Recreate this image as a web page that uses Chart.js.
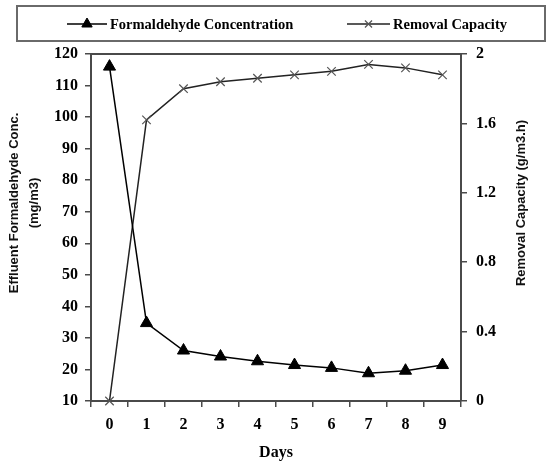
<!DOCTYPE html>
<html>
<head>
<meta charset="utf-8">
<script src="https://cdn.jsdelivr.net/npm/chart.js@4/dist/chart.umd.min.js"></script>
<style>
  html, body { margin: 0; padding: 0; background: #fff; }
  #wrap { width: 548px; height: 468px; }
</style>
</head>
<body>
<div id="wrap"><canvas id="chart" width="548" height="468"></canvas></div>
<script>
// values
const days = ['0', '1', '2', '3', '4', '5', '6', '7', '8', '9'];
const formaldehydeConc = [116, 34.7, 26, 24.1, 22.6, 21.4, 20.5, 18.8, 19.6, 21.4];
const removalCapacity = [0, 1.62, 1.80, 1.84, 1.86, 1.88, 1.90, 1.94, 1.92, 1.88];

const leftTicks = [10, 20, 30, 40, 50, 60, 70, 80, 90, 100, 110, 120];
const rightTicks = [0, 0.4, 0.8, 1.2, 1.6, 2];

const serif = "'Liberation Serif', 'Times New Roman', serif";
const sans = "'Liberation Sans', Arial, sans-serif";
const axisColor = '#4a4a4a';

// frame around the plot area + custom legend box + the two y titles
const decorPlugin = {
    id: 'decor',
    afterDraw(chart) {
        const ctx = chart.ctx;
        const a = chart.chartArea;
        ctx.save();
        ctx.strokeStyle = axisColor;
        ctx.lineWidth = 2;
        ctx.beginPath();
        ctx.moveTo(a.left, a.top);
        ctx.lineTo(a.right, a.top);
        ctx.stroke();

        // legend box
        ctx.strokeStyle = '#6a6a6a';
        ctx.lineWidth = 2;
        ctx.strokeRect(17, 6, 528, 35);

        const items = [
            { ds: chart.data.datasets[0], x0: 67, x1: 107, tx: 110 },
            { ds: chart.data.datasets[1], x0: 347, x1: 390, tx: 393 }
        ];
        const ly = 24;
        ctx.font = "bold 14.5px " + serif;
        ctx.textBaseline = 'middle';
        ctx.fillStyle = '#000';
        items.forEach(it => {
            ctx.strokeStyle = it.ds.borderColor;
            ctx.lineWidth = 1.5;
            ctx.beginPath();
            ctx.moveTo(it.x0, ly);
            ctx.lineTo(it.x1, ly);
            ctx.stroke();
            ctx.fillStyle = it.ds.pointBackgroundColor;
            ctx.strokeStyle = it.ds.pointBorderColor;
            ctx.lineWidth = it.ds.pointBorderWidth;
            Chart.helpers.drawPoint(ctx, {
                pointStyle: it.ds.pointStyle,
                radius: it.ds.pointRadius - 1,
                rotation: 0,
                borderWidth: it.ds.pointBorderWidth
            }, (it.x0 + it.x1) / 2, ly);
            ctx.fillStyle = '#000';
            ctx.textAlign = 'left';
            ctx.fillText(it.ds.label, it.tx, ly + 1);
        });

        // rotated axis titles
        ctx.font = "bold 13px " + sans;
        ctx.fillStyle = '#111';
        ctx.textAlign = 'center';
        ctx.textBaseline = 'middle';
        const cy = 203;
        ctx.translate(14, cy);
        ctx.rotate(-Math.PI / 2);
        ctx.fillText('Effluent Formaldehyde Conc.', 0, 0);
        ctx.fillText('(mg/m3)', 0, 20);
        ctx.setTransform(1, 0, 0, 1, 0, 0);
        ctx.translate(521, cy);
        ctx.rotate(-Math.PI / 2);
        ctx.fillText('Removal Capacity (g/m3.h)', 0, 0);
        ctx.restore();
    }
};

new Chart(document.getElementById('chart'), {
    type: 'line',
    data: {
        labels: days,
        datasets: [{
            label: 'Formaldehyde Concentration',
            data: formaldehydeConc,
            yAxisID: 'y',
            borderColor: '#000',
            borderWidth: 1.5,
            pointStyle: 'triangle',
            pointRadius: 7,
            pointBackgroundColor: '#000',
            pointBorderColor: '#000',
            pointBorderWidth: 1,
            tension: 0,
            clip: false
        }, {
            label: 'Removal Capacity',
            data: removalCapacity,
            yAxisID: 'y1',
            borderColor: '#222',
            borderWidth: 1.5,
            pointStyle: 'crossRot',
            pointRadius: 6,
            pointBackgroundColor: '#555',
            pointBorderColor: '#555',
            pointBorderWidth: 1.2,
            tension: 0,
            clip: false
        }]
    },
    options: {
        responsive: false,
        animation: false,
        layout: { padding: { top: 54 } },
        plugins: {
            legend: { display: false },
            tooltip: { enabled: false }
        },
        scales: {
            x: {
                type: 'category',
                offset: true,
                border: { display: true, color: axisColor, width: 2 },
                grid: { offset: true, drawOnChartArea: false, drawTicks: true, tickLength: 6, color: axisColor, lineWidth: 1.5 },
                ticks: { color: '#000', font: { family: serif, size: 16, weight: 'bold' }, padding: 8, maxRotation: 0 },
                title: { display: true, text: 'Days', color: '#000', font: { family: serif, size: 16, weight: 'bold' }, padding: { top: 0, bottom: 6 } },
                afterFit(scale) { scale.height = 67; }
            },
            y: {
                position: 'left',
                min: 10,
                max: 120,
                afterBuildTicks(scale) { scale.ticks = leftTicks.map(v => ({ value: v })); },
                border: { display: true, color: axisColor, width: 2 },
                grid: { drawOnChartArea: false, drawTicks: true, tickLength: 6, color: axisColor, lineWidth: 1.5 },
                ticks: { color: '#000', font: { family: serif, size: 16, weight: 'bold' }, padding: 7 },
                afterFit(scale) { scale.width = 91; }
            },
            y1: {
                position: 'right',
                min: 0,
                max: 2,
                afterBuildTicks(scale) { scale.ticks = rightTicks.map(v => ({ value: v })); },
                border: { display: true, color: axisColor, width: 2 },
                grid: { drawOnChartArea: false, drawTicks: true, tickLength: 6, color: axisColor, lineWidth: 1.5 },
                ticks: { color: '#000', font: { family: serif, size: 16, weight: 'bold' }, padding: 9,
                    callback: v => String(v) },
                afterFit(scale) { scale.width = 87; }
            }
        }
    },
    plugins: [decorPlugin]
});
</script>
</body>
</html>
